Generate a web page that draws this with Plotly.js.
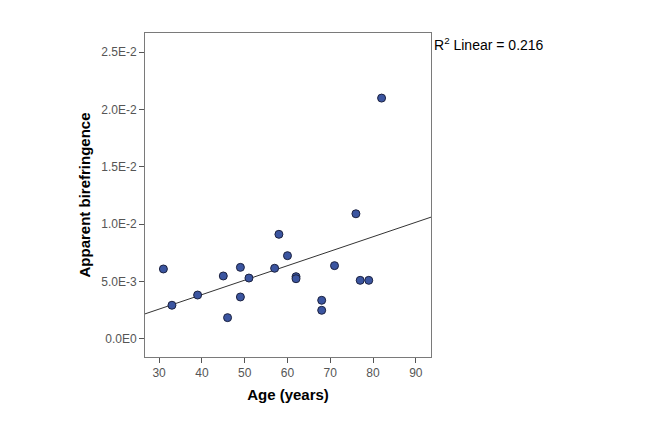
<!DOCTYPE html>
<html>
<head>
<meta charset="utf-8">
<script src="https://cdn.plot.ly/plotly-3.0.1.min.js"></script>
<style>html,body{margin:0;padding:0;background:#fff;}#chart{width:669px;height:421px;}</style>
</head>
<body>
<div id="chart"></div>
<script>
// Data
const ages = [31, 33, 39, 45, 46, 49, 49, 51, 57, 58, 60, 62, 62, 68, 68, 71, 76, 77, 79, 82];
const birefringence = [0.00610, 0.00294, 0.00383, 0.00549, 0.00186, 0.00624, 0.00366, 0.00531, 0.00616, 0.00912,
                       0.00726, 0.00543, 0.00525, 0.00337, 0.00250, 0.00639, 0.01091, 0.00511, 0.00511, 0.02099];
const xTickVals = [30, 40, 50, 60, 70, 80, 90];
const yTickVals = [0, 0.005, 0.010, 0.015, 0.020, 0.025];
const yTickText = ["0.0E0", "5.0E-3", "1.0E-2", "1.5E-2", "2.0E-2", "2.5E-2"];
const xRange = [26.7, 93.55];
const yRange = [-0.00157, 0.02666];
const r2Label = "R<sup>2</sup> Linear = 0.216";

// Least-squares linear fit computed from the data
const n = ages.length;
const mx = ages.reduce((a, b) => a + b, 0) / n;
const my = birefringence.reduce((a, b) => a + b, 0) / n;
let sxy = 0, sxx = 0;
for (let i = 0; i < n; i++) {
  sxy += (ages[i] - mx) * (birefringence[i] - my);
  sxx += (ages[i] - mx) ** 2;
}
const slope = sxy / sxx;
const intercept = my - slope * mx;
const fitX = xRange.slice();
const fitY = fitX.map(x => intercept + slope * x);

const font = "Liberation Sans, Arial, sans-serif";

const traces = [
  {
    x: fitX, y: fitY, type: 'scatter', mode: 'lines',
    line: {color: '#333333', width: 1}, hoverinfo: 'skip', showlegend: false
  },
  {
    x: ages, y: birefringence, type: 'scatter', mode: 'markers',
    marker: {size: 8, color: '#3b55a0', line: {color: '#1c2240', width: 1}},
    showlegend: false
  }
];

const layout = {
  width: 669, height: 421,
  margin: {l: 145, r: 238, t: 33, b: 64},
  paper_bgcolor: '#ffffff', plot_bgcolor: '#ffffff',
  font: {family: font, size: 12, color: '#555555'},
  showlegend: false,
  xaxis: {
    range: xRange, tickvals: xTickVals, ticks: 'outside', ticklen: 5, tickcolor: '#555555',
    showgrid: false, zeroline: false, showline: true, mirror: true, linecolor: '#7a7a7a', linewidth: 1,
    tickfont: {family: font, size: 12, color: '#555555'},
    title: {text: 'Age (years)', font: {family: font, size: 15, color: '#000000', weight: 'bold'}, standoff: 10}
  },
  yaxis: {
    range: yRange, tickvals: yTickVals, ticktext: yTickText, ticks: 'outside', ticklen: 5, tickcolor: '#555555',
    showgrid: false, zeroline: false, showline: true, mirror: true, linecolor: '#7a7a7a', linewidth: 1,
    tickfont: {family: font, size: 12, color: '#555555'},
    title: {text: 'Apparent birefringence', font: {family: font, size: 15, color: '#000000', weight: 'bold'}, standoff: 6}
  },
  annotations: [
    {
      text: r2Label,
      xref: 'paper', yref: 'paper', x: 1.003, y: 1.0, xanchor: 'left', yanchor: 'top',
      showarrow: false, font: {family: font, size: 14, color: '#000000'}
    }
  ]
};

Plotly.newPlot('chart', traces, layout, {displayModeBar: false, staticPlot: true});
</script>
</body>
</html>
